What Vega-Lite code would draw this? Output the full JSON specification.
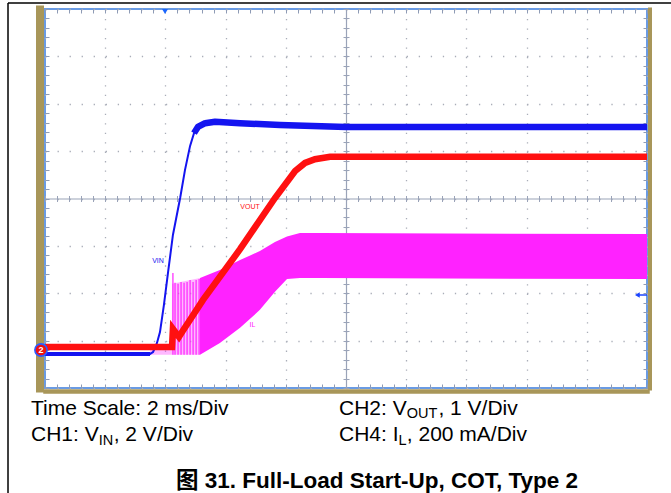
{
  "$schema": "https://vega.github.io/schema/vega-lite/v6.json",
  "width": 602,
  "height": 379,
  "autosize": "none",
  "padding": {"left": 45, "top": 9, "right": 24, "bottom": 105},
  "background": "white",
  "config": {
    "view": {"stroke": "#6a9be3", "strokeWidth": 2},
    "axis": {"labels": false, "title": null, "grid": false, "domain": false, "ticks": false},
    "text": {"font": "Liberation Sans"}
  },
  "datasets": {
    "vin": [
      {"t": 0, "div": 0.72}, {"t": 3.49, "div": 0.72}, {"t": 3.59, "div": 0.76}, {"t": 3.72, "div": 0.95},
      {"t": 3.82, "div": 1.18}, {"t": 3.95, "div": 1.75}, {"t": 4.09, "div": 2.45}, {"t": 4.25, "div": 3.23},
      {"t": 4.49, "div": 4.01}, {"t": 4.65, "div": 4.6}, {"t": 4.82, "div": 5.11}, {"t": 4.95, "div": 5.38},
      {"t": 5.08, "div": 5.51}, {"t": 5.32, "div": 5.59}, {"t": 5.65, "div": 5.62}, {"t": 6.48, "div": 5.59},
      {"t": 7.81, "div": 5.55}, {"t": 10.0, "div": 5.51}, {"t": 20, "div": 5.51}
    ],
    "vout": [
      {"t": 0, "div": 0.865}, {"t": 4.22, "div": 0.865}, {"t": 4.25, "div": 1.245}, {"t": 4.35, "div": 1.16},
      {"t": 4.45, "div": 1.08}, {"t": 4.59, "div": 1.22}, {"t": 4.82, "div": 1.44}, {"t": 5.25, "div": 1.86},
      {"t": 6.48, "div": 2.93}, {"t": 7.64, "div": 4.01}, {"t": 8.31, "div": 4.58}, {"t": 8.64, "div": 4.75},
      {"t": 8.97, "div": 4.83}, {"t": 9.47, "div": 4.88}, {"t": 20, "div": 4.88}
    ],
    "ilRing": [
      {"t": 3.49, "hi": 0.84, "lo": 0.7}, {"t": 4.21, "hi": 0.84, "lo": 0.7}, {"t": 4.22, "hi": 2.2, "lo": 0.7},
      {"t": 5.15, "hi": 2.32, "lo": 0.7}
    ],
    "ilSpikes": [
      {"t": 4.25, "hi": 2.43, "lo": 0.7}, {"t": 4.32, "hi": 2.22, "lo": 0.7}, {"t": 4.42, "hi": 2.2, "lo": 0.7},
      {"t": 4.52, "hi": 2.24, "lo": 0.7}, {"t": 4.62, "hi": 2.22, "lo": 0.7}, {"t": 4.72, "hi": 2.24, "lo": 0.7},
      {"t": 4.82, "hi": 2.28, "lo": 0.7}, {"t": 4.92, "hi": 2.24, "lo": 0.7}, {"t": 5.02, "hi": 2.28, "lo": 0.7},
      {"t": 5.12, "hi": 2.3, "lo": 0.7}
    ],
    "ilBand": [
      {"t": 5.15, "hi": 2.32, "lo": 0.7}, {"t": 5.81, "hi": 2.49, "lo": 0.95}, {"t": 6.48, "hi": 2.7, "lo": 1.27},
      {"t": 7.14, "hi": 2.89, "lo": 1.65}, {"t": 7.64, "hi": 3.08, "lo": 2.03}, {"t": 8.04, "hi": 3.2, "lo": 2.3},
      {"t": 8.47, "hi": 3.27, "lo": 2.32}, {"t": 9.14, "hi": 3.27, "lo": 2.32}, {"t": 20, "hi": 3.25, "lo": 2.3}
    ],
    "labels": [
      {"t": 3.754, "div": 2.68, "text": "VIN", "ch": "CH1"},
      {"t": 6.81, "div": 3.82, "text": "VOUT", "ch": "CH2"},
      {"t": 6.894, "div": 1.33, "text": "IL", "ch": "CH4"}
    ],
    "capMain": [
      {"t": -0.465, "div": -0.57, "text": "Time Scale: 2 ms/Div"},
      {"t": -0.465, "div": -1.118, "text": "CH1: V"},
      {"t": 2.282, "div": -1.118, "text": ", 2 V/Div"},
      {"t": 9.767, "div": -0.57, "text": "CH2: V"},
      {"t": 13.07, "div": -0.57, "text": ", 1 V/Div"},
      {"t": 9.767, "div": -1.118, "text": "CH4: I"},
      {"t": 12.02, "div": -1.118, "text": ", 200 mA/Div"}
    ],
    "capSub": [
      {"t": 1.784, "div": -1.203, "text": "IN"},
      {"t": 12.017, "div": -0.633, "text": "OUT"},
      {"t": 11.744, "div": -1.203, "text": "L"}
    ],
    "caption": [
      {"t": 11.03, "div": -2.111, "text": "图 31. Full-Load Start-Up, COT, Type 2"}
    ]
  },
  "resolve": {"axis": {"x": "independent", "y": "independent"}},
  "layer": [
    {
      "data": {"name": "ilRing"},
      "mark": {"type": "area", "color": "#ff33ff", "opacity": 0.35},
      "encoding": {
        "x": {"field": "t", "type": "quantitative", "scale": {"domain": [0, 20], "nice": false, "zero": false},
              "axis": {"orient": "bottom", "values": [0, 2, 4, 6, 8, 10, 12, 14, 16, 18, 20], "grid": true, "gridColor": "#a9adb8", "gridWidth": 1.3, "gridDash": [1.3, 8.175]}},
        "y": {"field": "hi", "type": "quantitative", "scale": {"domain": [0, 8], "nice": false, "zero": false},
              "axis": {"orient": "left", "values": [0, 1, 2, 3, 4, 5, 6, 7, 8], "grid": true, "gridColor": "#a9adb8", "gridWidth": 1.3, "gridDash": [1.3, 10.74]}},
        "y2": {"field": "lo"}
      }
    },
    {
      "data": {"name": "ilSpikes"},
      "mark": {"type": "rule", "color": "#ff22ff", "strokeWidth": 1.2},
      "encoding": {
        "x": {"field": "t", "type": "quantitative",
              "axis": {"orient": "top", "ticks": true, "tickSize": -4, "tickColor": "#8e9bb5", "values": [0,0.4,0.8,1.2,1.6,2,2.4,2.8,3.2,3.6,4,4.4,4.8,5.2,5.6,6,6.4,6.8,7.2,7.6,8,8.4,8.8,9.2,9.6,10,10.4,10.8,11.2,11.6,12,12.4,12.8,13.2,13.6,14,14.4,14.8,15.2,15.6,16,16.4,16.8,17.2,17.6,18,18.4,18.8,19.2,19.6,20]}},
        "y": {"field": "hi", "type": "quantitative",
              "axis": {"orient": "left", "ticks": true, "tickSize": -4, "tickColor": "#8e9bb5", "values": [0,0.2,0.4,0.6,0.8,1,1.2,1.4,1.6,1.8,2,2.2,2.4,2.6,2.8,3,3.2,3.4,3.6,3.8,4,4.2,4.4,4.6,4.8,5,5.2,5.4,5.6,5.8,6,6.2,6.4,6.6,6.8,7,7.2,7.4,7.6,7.8,8]}},
        "y2": {"field": "lo"}
      }
    },
    {
      "data": {"name": "ilBand"},
      "mark": {"type": "area", "color": "#ff22ff"},
      "encoding": {
        "x": {"field": "t", "type": "quantitative",
              "axis": {"orient": "bottom", "ticks": true, "tickSize": -4, "tickColor": "#8e9bb5", "values": [0,0.4,0.8,1.2,1.6,2,2.4,2.8,3.2,3.6,4,4.4,4.8,5.2,5.6,6,6.4,6.8,7.2,7.6,8,8.4,8.8,9.2,9.6,10,10.4,10.8,11.2,11.6,12,12.4,12.8,13.2,13.6,14,14.4,14.8,15.2,15.6,16,16.4,16.8,17.2,17.6,18,18.4,18.8,19.2,19.6,20]}},
        "y": {"field": "hi", "type": "quantitative",
              "axis": {"orient": "right", "ticks": true, "tickSize": -4, "tickColor": "#8e9bb5", "values": [0,0.2,0.4,0.6,0.8,1,1.2,1.4,1.6,1.8,2,2.2,2.4,2.6,2.8,3,3.2,3.4,3.6,3.8,4,4.2,4.4,4.6,4.8,5,5.2,5.4,5.6,5.8,6,6.2,6.4,6.6,6.8,7,7.2,7.4,7.6,7.8,8]}},
        "y2": {"field": "lo"}
      }
    },
    {
      "data": {"name": "vin"},
      "mark": {"type": "line", "color": "#1414f0", "strokeWidth": 2},
      "encoding": {
        "x": {"field": "t", "type": "quantitative",
              "axis": {"orient": "bottom", "offset": -189.5, "domain": true, "domainColor": "#9aa3b8", "domainWidth": 1.2, "ticks": true, "tickSize": 3, "tickColor": "#9aa3b8", "values": [0,0.4,0.8,1.2,1.6,2,2.4,2.8,3.2,3.6,4,4.4,4.8,5.2,5.6,6,6.4,6.8,7.2,7.6,8,8.4,8.8,9.2,9.6,10,10.4,10.8,11.2,11.6,12,12.4,12.8,13.2,13.6,14,14.4,14.8,15.2,15.6,16,16.4,16.8,17.2,17.6,18,18.4,18.8,19.2,19.6,20]}},
        "y": {"field": "div", "type": "quantitative",
              "axis": {"orient": "left", "offset": -301, "domain": true, "domainColor": "#9aa3b8", "domainWidth": 1.2, "ticks": true, "tickSize": 3, "tickColor": "#9aa3b8", "values": [0,0.2,0.4,0.6,0.8,1,1.2,1.4,1.6,1.8,2,2.2,2.4,2.6,2.8,3,3.2,3.4,3.6,3.8,4,4.2,4.4,4.6,4.8,5,5.2,5.4,5.6,5.8,6,6.2,6.4,6.6,6.8,7,7.2,7.4,7.6,7.8,8]}}
      }
    },
    {
      "data": {"name": "vin"},
      "transform": [{"filter": "datum.t <= 3.5"}],
      "mark": {"type": "line", "color": "#1414f0", "strokeWidth": 4},
      "encoding": {
        "x": {"field": "t", "type": "quantitative", "axis": null},
        "y": {"field": "div", "type": "quantitative", "axis": null}
      }
    },
    {
      "data": {"name": "vin"},
      "transform": [{"filter": "datum.t >= 4.95"}],
      "mark": {"type": "line", "color": "#1414f0", "strokeWidth": 6.5, "strokeCap": "butt", "strokeJoin": "round"},
      "encoding": {
        "x": {"field": "t", "type": "quantitative", "axis": null},
        "y": {"field": "div", "type": "quantitative", "axis": null}
      }
    },
    {
      "data": {"name": "vout"},
      "mark": {"type": "line", "color": "#ff1010", "strokeWidth": 6.5},
      "encoding": {
        "x": {"field": "t", "type": "quantitative",
              "axis": {"orient": "top", "offset": -189.5, "ticks": true, "tickSize": 3, "tickColor": "#9aa3b8", "values": [0,0.4,0.8,1.2,1.6,2,2.4,2.8,3.2,3.6,4,4.4,4.8,5.2,5.6,6,6.4,6.8,7.2,7.6,8,8.4,8.8,9.2,9.6,10,10.4,10.8,11.2,11.6,12,12.4,12.8,13.2,13.6,14,14.4,14.8,15.2,15.6,16,16.4,16.8,17.2,17.6,18,18.4,18.8,19.2,19.6,20]}},
        "y": {"field": "div", "type": "quantitative",
              "axis": {"orient": "right", "offset": -301, "ticks": true, "tickSize": 3, "tickColor": "#9aa3b8", "values": [0,0.2,0.4,0.6,0.8,1,1.2,1.4,1.6,1.8,2,2.2,2.4,2.6,2.8,3,3.2,3.4,3.6,3.8,4,4.2,4.4,4.6,4.8,5,5.2,5.4,5.6,5.8,6,6.2,6.4,6.6,6.8,7,7.2,7.4,7.6,7.8,8]}}
      }
    },
    {
      "data": {"name": "labels"},
      "mark": {"type": "text", "fontSize": 7, "align": "center", "baseline": "middle"},
      "encoding": {
        "x": {"field": "t", "type": "quantitative",
              "axis": {"orient": "bottom", "offset": 3, "domain": true, "domainColor": "#a89659", "domainWidth": 4.5, "domainCap": "square"}},
        "y": {"field": "div", "type": "quantitative",
              "axis": {"orient": "left", "offset": 5.5, "domain": true, "domainColor": "#a89659", "domainWidth": 8, "domainCap": "square"}},
        "text": {"field": "text"},
        "color": {"field": "ch", "type": "nominal", "scale": {"domain": ["CH1", "CH2", "CH4"], "range": ["#1414f0", "#ff1010", "#ff22ff"]}, "legend": null}
      }
    },
    {
      "data": {"values": [{}]},
      "mark": {"type": "point", "shape": "triangle-down", "filled": true, "color": "#1a66ff", "size": 35, "opacity": 1},
      "encoding": {
        "x": {"datum": 3.987, "type": "quantitative", "axis": null},
        "y": {"datum": 7.947, "type": "quantitative",
              "axis": {"orient": "right", "offset": 2.5, "domain": true, "domainColor": "#a89659", "domainWidth": 4, "domainCap": "square"}}
      }
    },
    {
      "data": {"values": [{}]},
      "mark": {"type": "rule", "color": "#1a44ff", "strokeWidth": 1.5},
      "encoding": {
        "x": {"datum": 19.7, "type": "quantitative", "axis": null},
        "x2": {"datum": 20},
        "y": {"datum": 1.963, "type": "quantitative", "axis": null}
      }
    },
    {
      "data": {"values": [{}]},
      "mark": {"type": "point", "shape": "triangle-left", "filled": true, "color": "#1a44ff", "size": 30, "opacity": 1},
      "encoding": {
        "x": {"datum": 19.68, "type": "quantitative", "axis": null},
        "y": {"datum": 1.963, "type": "quantitative", "axis": null}
      }
    },
    {
      "data": {"values": [{}]},
      "mark": {"type": "point", "shape": "circle", "filled": true, "color": "#ee1111", "stroke": "#2a5cff", "strokeWidth": 1.6, "size": 150, "opacity": 1},
      "encoding": {
        "x": {"datum": -0.133, "type": "quantitative", "axis": null},
        "y": {"datum": 0.802, "type": "quantitative", "axis": null}
      }
    },
    {
      "data": {"values": [{}]},
      "mark": {"type": "text", "text": "2", "color": "white", "fontSize": 9, "fontWeight": "bold", "align": "center", "baseline": "middle"},
      "encoding": {
        "x": {"datum": -0.133, "type": "quantitative", "axis": null},
        "y": {"datum": 0.802, "type": "quantitative", "axis": null}
      }
    },
    {
      "data": {"values": [{}]},
      "mark": {"type": "rule", "color": "#000000", "strokeWidth": 1.5},
      "encoding": {
        "x": {"datum": -1.229, "type": "quantitative", "axis": null},
        "y": {"datum": 8.127, "type": "quantitative", "axis": null},
        "y2": {"datum": -2.3}
      }
    },
    {
      "data": {"values": [{}]},
      "mark": {"type": "rule", "color": "#000000", "strokeWidth": 1.5},
      "encoding": {
        "x": {"datum": -1.229, "type": "quantitative", "axis": null},
        "x2": {"datum": 21},
        "y": {"datum": 8.127, "type": "quantitative", "axis": null}
      }
    },
    {
      "data": {"name": "capMain"},
      "mark": {"type": "text", "fontSize": 21, "align": "left", "baseline": "alphabetic", "color": "#000000"},
      "encoding": {
        "x": {"field": "t", "type": "quantitative", "axis": null},
        "y": {"field": "div", "type": "quantitative", "axis": null},
        "text": {"field": "text"}
      }
    },
    {
      "data": {"name": "capSub"},
      "mark": {"type": "text", "fontSize": 14.5, "align": "left", "baseline": "alphabetic", "color": "#000000"},
      "encoding": {
        "x": {"field": "t", "type": "quantitative", "axis": null},
        "y": {"field": "div", "type": "quantitative", "axis": null},
        "text": {"field": "text"}
      }
    },
    {
      "data": {"name": "caption"},
      "mark": {"type": "text", "font": "Liberation Sans, Noto Sans CJK SC", "fontSize": 22.5, "fontWeight": "bold", "align": "center", "baseline": "alphabetic", "color": "#000000"},
      "encoding": {
        "x": {"field": "t", "type": "quantitative", "axis": null},
        "y": {"field": "div", "type": "quantitative", "axis": null},
        "text": {"field": "text"}
      }
    }
  ]
}
